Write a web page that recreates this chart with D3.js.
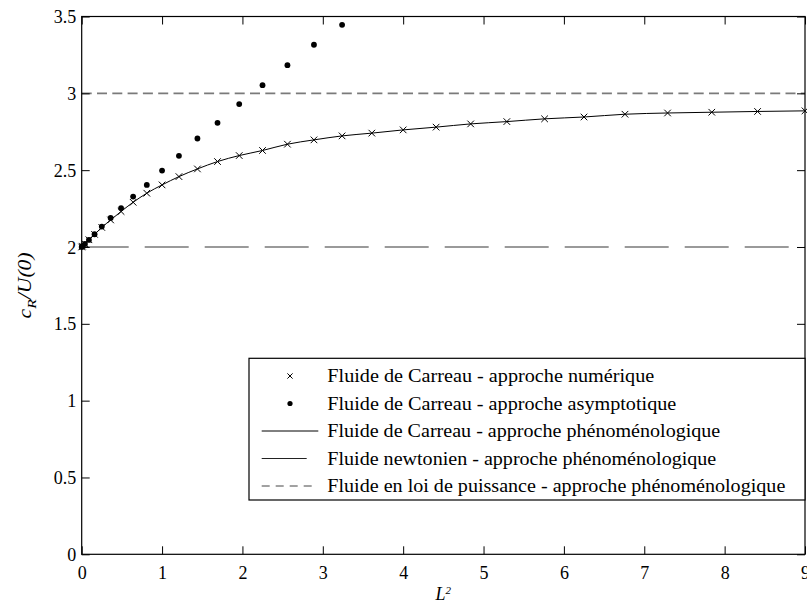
<!DOCTYPE html>
<html>
<head>
<meta charset="utf-8">
<script src="https://cdn.jsdelivr.net/npm/d3@7"></script>
<style>
  html, body { margin: 0; padding: 0; background: #fff; }
  svg { display: block; }
</style>
</head>
<body>
<svg id="chart" width="807" height="606"></svg>
<script>
// ---------------- data ----------------
const L2 = [0, 0.01, 0.04, 0.09, 0.16, 0.25, 0.36, 0.49, 0.64, 0.81, 1, 1.21, 1.44, 1.69, 1.96,
            2.25, 2.56, 2.89, 3.24, 3.61, 4, 4.41, 4.84, 5.29, 5.76, 6.25, 6.76, 7.29, 7.84, 8.41, 9];
const carreauNumerique = [2.0, 2.005, 2.021, 2.047, 2.082, 2.127, 2.176, 2.231, 2.291, 2.350, 2.404,
            2.458, 2.508, 2.556, 2.595, 2.628, 2.669, 2.697, 2.723, 2.741, 2.762, 2.780, 2.801,
            2.816, 2.834, 2.846, 2.864, 2.872, 2.877, 2.882, 2.886];
const carreauPheno = [2.0, 2.005, 2.021, 2.047, 2.082, 2.127, 2.176, 2.231, 2.291, 2.350, 2.404,
            2.458, 2.508, 2.556, 2.595, 2.628, 2.669, 2.697, 2.723, 2.741, 2.762, 2.780, 2.801,
            2.816, 2.834, 2.846, 2.864, 2.872, 2.877, 2.882, 2.886];
const L2asym = [0, 0.01, 0.04, 0.09, 0.16, 0.25, 0.36, 0.49, 0.64, 0.81, 1, 1.21, 1.44, 1.69, 1.96,
            2.25, 2.56, 2.89, 3.24];
const carreauAsymptotique = [2.0, 2.005, 2.02, 2.046, 2.083, 2.133, 2.189, 2.253, 2.328, 2.404, 2.497,
            2.593, 2.706, 2.808, 2.930, 3.053, 3.183, 3.316, 3.446];
const lineX = [0, 9];
const newtonien = [2, 2];
const loiPuissance = [3, 3];

const xTicks = [0, 1, 2, 3, 4, 5, 6, 7, 8, 9];
const xTickLabels = ["0", "1", "2", "3", "4", "5", "6", "7", "8", "9"];
const yTicks = [0, 0.5, 1, 1.5, 2, 2.5, 3, 3.5];
const yTickLabels = ["0", "0.5", "1", "1.5", "2", "2.5", "3", "3.5"];
const legendLabels = [
  "Fluide de Carreau - approche numérique",
  "Fluide de Carreau - approche asymptotique",
  "Fluide de Carreau - approche phénoménologique",
  "Fluide newtonien - approche phénoménologique",
  "Fluide en loi de puissance - approche phénoménologique"
];
const legendWidths = [327, 349, 393, 389, 458];

// ---------------- layout ----------------
const FONT = '"Liberation Serif", monospace';
const svg = d3.select("#chart");
const pL = 81.7, pR = 805, pT = 16.5, pB = 554.3;
const x = d3.scaleLinear().domain([0, 9]).range([pL, pR]);
const y = d3.scaleLinear().domain([0, 3.5]).range([pB, pT]);
const FS = 18;
const grayDash = "#7a7a7a";

// reference lines
const flat = d3.line().x((d, i) => x(lineX[i])).y(d => y(d));
svg.append("path").attr("d", flat(newtonien))
  .attr("fill", "none").attr("stroke", grayDash).attr("stroke-width", 1.6)
  .attr("stroke-dasharray", "44,16").attr("stroke-dashoffset", -3);
svg.append("path").attr("d", flat(loiPuissance))
  .attr("fill", "none").attr("stroke", grayDash).attr("stroke-width", 1.6)
  .attr("stroke-dasharray", "10,5.3");

// phenomenological Carreau curve
const curve = d3.line().x((d, i) => x(L2[i])).y(d => y(d)).curve(d3.curveMonotoneX);
svg.append("path").attr("d", curve(carreauPheno))
  .attr("fill", "none").attr("stroke", "#000").attr("stroke-width", 1);

// asymptotic dots
svg.append("g").selectAll("circle").data(carreauAsymptotique).join("circle")
  .attr("cx", (d, i) => x(L2asym[i])).attr("cy", d => y(d)).attr("r", 2.9).attr("fill", "#000");

// numerical crosses
const cs = 3.3;
svg.append("g").selectAll("path").data(carreauNumerique).join("path")
  .attr("d", (d, i) => {
    const cx = x(L2[i]), cy = y(d);
    return `M${cx - cs},${cy - cs}L${cx + cs},${cy + cs}M${cx - cs},${cy + cs}L${cx + cs},${cy - cs}`;
  })
  .attr("stroke", "#000").attr("stroke-width", 1).attr("fill", "none");

// axes
function styleAxis(g) {
  g.attr("font-family", FONT).attr("font-size", FS);
  g.select(".domain").remove();
  g.selectAll(".tick line").attr("stroke", "#000").attr("stroke-width", 1);
  g.selectAll(".tick text").attr("font-family", FONT).attr("font-size", FS).attr("fill", "#000");
}
const gx = svg.append("g").attr("transform", `translate(0,${pB})`)
  .call(d3.axisBottom(x).tickValues(xTicks).tickSize(-8).tickFormat((d, i) => xTickLabels[i]));
styleAxis(gx);
gx.selectAll(".tick text").attr("y", 24.5).attr("dy", null);

const gy = svg.append("g").attr("transform", `translate(${pL},0)`)
  .call(d3.axisLeft(y).tickValues(yTicks).tickSize(-8).tickFormat((d, i) => yTickLabels[i]));
styleAxis(gy);
gy.selectAll(".tick text").attr("x", -5.5).attr("dy", "0.34em");

const gt = svg.append("g").attr("transform", `translate(0,${pT})`)
  .call(d3.axisTop(x).tickValues(xTicks).tickSize(-8).tickFormat(""));
styleAxis(gt);
const gr = svg.append("g").attr("transform", `translate(${pR},0)`)
  .call(d3.axisRight(y).tickValues(yTicks).tickSize(-8).tickFormat(""));
styleAxis(gr);

// frame
svg.append("rect").attr("x", pL).attr("y", pT)
  .attr("width", pR - pL).attr("height", pB - pT)
  .attr("fill", "none").attr("stroke", "#000").attr("stroke-width", 1.2);

// axis labels
const xl = svg.append("text").attr("x", (pL + pR) / 2).attr("y", 600)
  .attr("text-anchor", "middle").attr("font-family", FONT).attr("font-size", FS)
  .attr("font-style", "italic");
xl.append("tspan").text("L");
xl.append("tspan").attr("dy", -6).attr("font-size", 11).text("2");

const yl = svg.append("text").attr("transform", `translate(31,${(pT + pB) / 2}) rotate(-90)`)
  .attr("text-anchor", "middle").attr("font-family", FONT).attr("font-size", FS)
  .attr("font-style", "italic").attr("textLength", 66).attr("lengthAdjust", "spacingAndGlyphs");
yl.append("tspan").text("c");
yl.append("tspan").attr("dy", 5).attr("font-size", 13).text("R");
yl.append("tspan").attr("dy", -5).text("/U(0)");

// legend
const lgX = 249, lgY = 358.3, lgW = pR - lgX, lgH = 141.7;
const lg = svg.append("g");
lg.append("rect").attr("x", lgX).attr("y", lgY).attr("width", lgW).attr("height", lgH)
  .attr("fill", "#fff").attr("stroke", "#000").attr("stroke-width", 1.2);
const rowY = i => 376 + i * 27.5;
legendLabels.forEach((lab, i) => {
  lg.append("text").attr("x", 327.3).attr("y", rowY(i) + 6)
    .attr("font-family", FONT).attr("font-size", FS)
    .attr("textLength", legendWidths[i]).attr("lengthAdjust", "spacingAndGlyphs")
    .text(lab);
});
// samples
const sx = 290, ls = 2.6;
lg.append("path")
  .attr("d", `M${sx - ls},${rowY(0) - ls}L${sx + ls},${rowY(0) + ls}M${sx - ls},${rowY(0) + ls}L${sx + ls},${rowY(0) - ls}`)
  .attr("stroke", "#000").attr("stroke-width", 1);
lg.append("circle").attr("cx", sx).attr("cy", rowY(1)).attr("r", 2.6).attr("fill", "#000");
lg.append("line").attr("x1", 261.7).attr("x2", 318.3).attr("y1", rowY(2)).attr("y2", rowY(2))
  .attr("stroke", "#000").attr("stroke-width", 1);
lg.append("line").attr("x1", 261.7).attr("x2", 306.7).attr("y1", rowY(3)).attr("y2", rowY(3))
  .attr("stroke", "#222").attr("stroke-width", 1);
lg.append("line").attr("x1", 261.7).attr("x2", 312).attr("y1", rowY(4)).attr("y2", rowY(4))
  .attr("stroke", "#444").attr("stroke-width", 1).attr("stroke-dasharray", "8,6");
</script>
</body>
</html>
